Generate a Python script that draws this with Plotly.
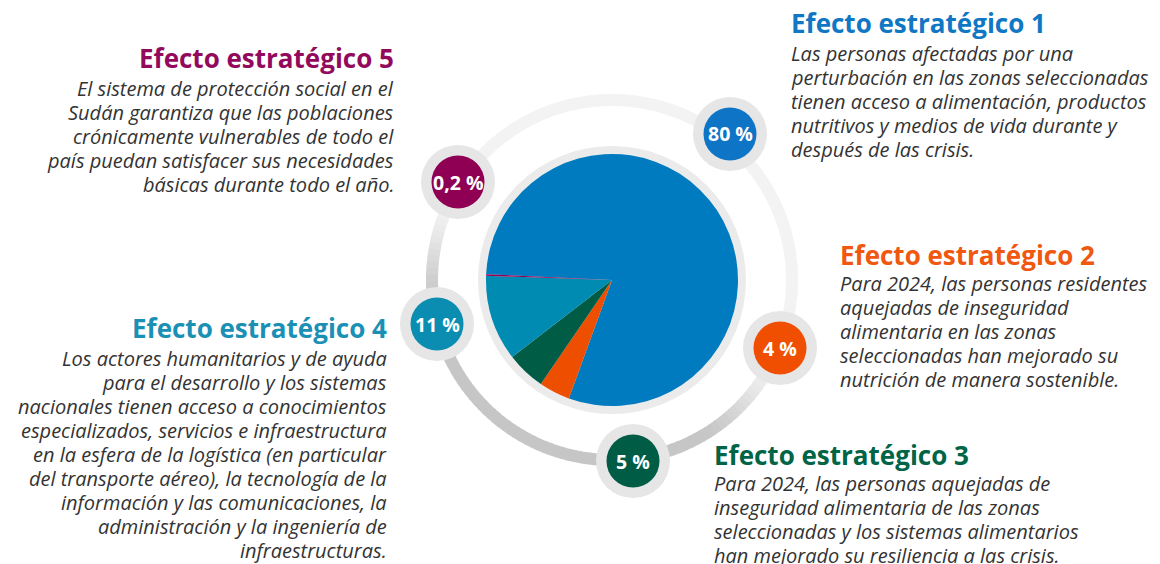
import numpy as np
import plotly.graph_objects as go

# ---------------- data ----------------
categories = ["Efecto estratégico 1", "Efecto estratégico 2", "Efecto estratégico 3",
              "Efecto estratégico 4", "Efecto estratégico 5"]
values = [80, 4, 5, 11, 0.2]
descriptions = [
    ["Las personas afectadas por una", "perturbación en las zonas seleccionadas",
     "tienen acceso a alimentación, productos", "nutritivos y medios de vida durante y",
     "después de las crisis."],
    ["Para 2024, las personas residentes", "aquejadas de inseguridad",
     "alimentaria en las zonas", "seleccionadas han mejorado su",
     "nutrición de manera sostenible."],
    ["Para 2024, las personas aquejadas de", "inseguridad alimentaria de las zonas",
     "seleccionadas y los sistemas alimentarios", "han mejorado su resiliencia a las crisis."],
    ["Los actores humanitarios y de ayuda", "para el desarrollo y los sistemas",
     "nacionales tienen acceso a conocimientos", "especializados, servicios e infraestructura",
     "en la esfera de la logística (en particular", "del transporte aéreo), la tecnología de la",
     "información y las comunicaciones, la", "administración y la ingeniería de",
     "infraestructuras."],
    ["El sistema de protección social en el", "Sudán garantiza que las poblaciones",
     "crónicamente vulnerables de todo el", "país puedan satisfacer sus necesidades",
     "básicas durante todo el año."],
]

# ---------------- style ----------------
W, H = 1160, 564
pie_colors = ["#007BC0", "#EE4E00", "#005C45", "#008BB2", "#8F0054"]
badge_colors = ["#0E74C5", "#F04E00", "#005C45", "#0A8DB0", "#8F0054"]
title_colors = ["#1077C4", "#F0570F", "#006446", "#1A90B5", "#930A5C"]
CX, CY, R_PIE = 612, 280, 126
R_RING = 180
badge_pos = [(730, 134), (780, 348), (633, 461), (437, 324), (458, 182)]
# (edge x, title y, first body line y, anchor)
text_pos = [(792, 23, 53, "left"), (841, 255, 283, "left"), (715, 455, 483, "left"),
            (386, 328, 358, "right"), (393, 58, 88, "right")]
LINE_GAP = 24.1
TITLE_SIZE = 26
BODY_SIZE = 20

def px(x):
    return x / W

def py(y):
    return 1 - y / H

shapes = []

# outer gradient ring, drawn as many short segments
N = 180
light, dark = np.array([243, 243, 243]), np.array([198, 198, 198])
for i in range(N):
    a0 = 2 * np.pi * i / N - 0.004
    a1 = 2 * np.pi * (i + 1) / N + 0.004
    am = (a0 + a1) / 2
    p = np.cos(am - np.deg2rad(26))
    t = np.clip((p + 0.6) / 0.6, 0, 1)
    t = t * t * (3 - 2 * t)
    c = dark + (light - dark) * t
    col = "rgb(%d,%d,%d)" % tuple(c.round())
    pts = [(CX + R_RING * np.sin(a), CY - R_RING * np.cos(a)) for a in np.linspace(a0, a1, 4)]
    path = "M " + " L ".join("%.5f,%.5f" % (px(x), py(y)) for x, y in pts)
    shapes.append(dict(type="path", path=path, xref="paper", yref="paper",
                       line=dict(color=col, width=12), layer="below"))

# light halo around the pie
shapes.append(dict(type="circle", xref="paper", yref="paper",
                   x0=px(CX - 134), x1=px(CX + 134), y0=py(CY + 134), y1=py(CY - 134),
                   fillcolor="#EBEBEB", line=dict(width=0), layer="below"))

annotations = []
for i, (bx, by) in enumerate(badge_pos):
    shapes.append(dict(type="circle", xref="paper", yref="paper",
                       x0=px(bx - 37), x1=px(bx + 37), y0=py(by + 37), y1=py(by - 37),
                       fillcolor="#E6E6E6", line=dict(width=0), layer="below"))
    shapes.append(dict(type="circle", xref="paper", yref="paper",
                       x0=px(bx - 26.5), x1=px(bx + 26.5), y0=py(by + 26.5), y1=py(by - 26.5),
                       fillcolor=badge_colors[i], line=dict(width=0), layer="below"))
    label = ("%g %%" % values[i]).replace(".", ",")
    annotations.append(dict(x=px(bx), y=py(by), xref="paper", yref="paper",
                            text="<b>%s</b>" % label, showarrow=False, borderpad=0,
                            font=dict(family="Open Sans", size=19.5, color="white"),
                            xanchor="center", yanchor="middle"))

for i, (tx, ty, by0, anc) in enumerate(text_pos):
    ax = tx - 2 if anc == "left" else tx + 2
    annotations.append(dict(x=px(ax), y=py(ty), xref="paper", yref="paper",
                            text="<b>%s</b>" % categories[i], showarrow=False, borderpad=0,
                            font=dict(family="Open Sans", size=TITLE_SIZE, color=title_colors[i]),
                            xanchor=anc, yanchor="middle", align=anc))
    for k, line in enumerate(descriptions[i]):
        annotations.append(dict(x=px(ax), y=py(by0 + k * LINE_GAP), xref="paper", yref="paper",
                                text="<i>%s</i>" % line, showarrow=False, borderpad=0,
                                font=dict(family="Open Sans", size=BODY_SIZE, color="#333333"),
                                xanchor=anc, yanchor="middle", align=anc))

fig = go.Figure(go.Pie(
    values=values, labels=categories, sort=False, direction="clockwise",
    rotation=-87.4, textinfo="none", hoverinfo="label+percent",
    marker=dict(colors=pie_colors, line=dict(width=0)),
    domain=dict(x=[px(CX - R_PIE), px(CX + R_PIE)], y=[py(CY + R_PIE), py(CY - R_PIE)]),
    showlegend=False,
))
fig.update_layout(width=W, height=H, margin=dict(l=0, r=0, t=0, b=0),
                  paper_bgcolor="white", plot_bgcolor="white",
                  shapes=shapes, annotations=annotations, showlegend=False)
fig.write_html("out.html", config={"displayModeBar": False},
               post_script="document.body.style.margin='0px';document.body.style.overflow='hidden';")
